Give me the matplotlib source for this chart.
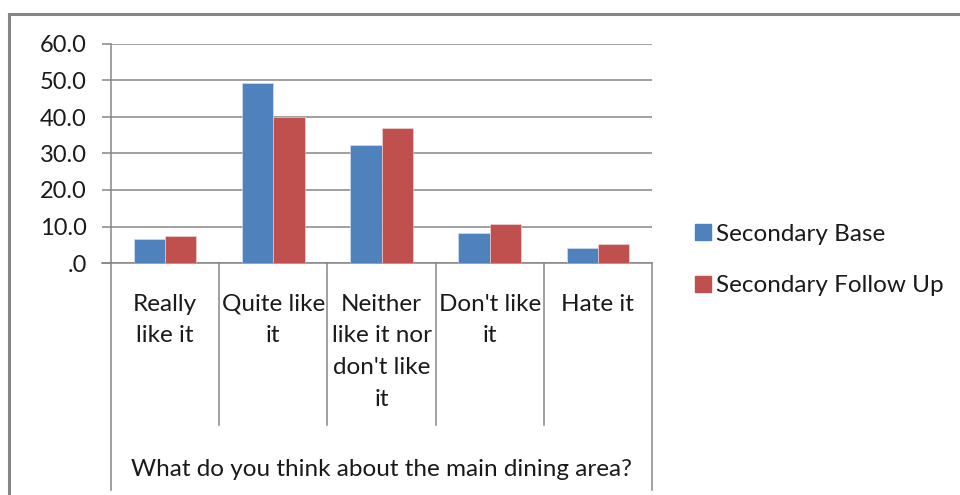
import matplotlib.pyplot as plt
import numpy as np
from matplotlib.lines import Line2D

plt.rcParams['font.family'] = ['Lato', 'DejaVu Sans']

categories = ["Really\nlike it", "Quite like\nit", "Neither\nlike it nor\ndon't like\nit",
              "Don't like\nit", "Hate it"]
base = [6.5, 49.2, 32.3, 8.1, 4.0]
follow_up = [7.5, 39.9, 36.9, 10.6, 5.3]
series_names = ["Secondary Base", "Secondary Follow Up"]
yticks = [0, 10, 20, 30, 40, 50, 60]
ytick_labels = [".0", "10.0", "20.0", "30.0", "40.0", "50.0", "60.0"]
axis_title = "What do you think about the main dining area?"

blue = "#4F81BD"
red = "#C0504D"
grey = "#868686"
txt = "#1a1a1a"

fig = plt.figure(figsize=(9.6, 4.95), dpi=100)
ax = fig.add_axes([111/960, 1 - 263/495, 541/960, 219/495])

x = np.arange(len(categories)) + 0.5
w = 0.29
ax.bar(x - w/2, base, w, color=blue, label=series_names[0], edgecolor="#dce6f2", linewidth=0.4, zorder=3)
ax.bar(x + w/2, follow_up, w, color=red, label=series_names[1], edgecolor="#f2dcdb", linewidth=0.4, zorder=3)

ax.set_xlim(0, len(categories))
ax.set_ylim(0, 60)
ax.set_yticks(yticks)
ax.set_yticklabels(ytick_labels, fontsize=17, color=txt)
ax.yaxis.grid(True, color=grey, linewidth=1.1, zorder=0)
ax.tick_params(axis='y', length=6.5, width=1.1, color=grey, pad=11)

for s in ['top', 'right']:
    ax.spines[s].set_visible(False)
for s in ['left', 'bottom']:
    ax.spines[s].set_color(grey)
    ax.spines[s].set_linewidth(1.1)
# extend bottom axis line to the left like the gridlines
ax.plot([-9/541*5, 0], [0, 0], color=grey, lw=1.1, clip_on=False, transform=ax.transData)

ax.set_xticks(x)
ax.set_xticklabels(categories, fontsize=17.5, color=txt, linespacing=1.64, va='top')
ax.tick_params(axis='x', length=0, pad=22)

# category separators
trans = ax.get_xaxis_transform()
edges = np.arange(len(categories) + 1)
for e in edges:
    bottom = -227/219 if e in (0, len(categories)) else -162/219
    ax.plot([e, e], [0, bottom], color=grey, lw=1.1, clip_on=False, transform=trans)

ax.text(len(categories)/2, -206/219, axis_title, transform=trans, ha='center', va='center',
        fontsize=17.5, color=txt)

# legend
handles = [Line2D([0], [0], marker='s', color='none', markerfacecolor=c, markeredgecolor=c,
                  markersize=11) for c in (blue, red)]
fig.legend(handles, series_names, loc='center left', bbox_to_anchor=(669/960, 1 - 260/495),
           frameon=False, fontsize=17.5, handletextpad=0.05, labelspacing=1.25, handlelength=1.0,
           labelcolor=txt)

# chart area border
fig.add_artist(Line2D([9/960, 1.0], [1 - 14/495, 1 - 14/495], color=grey, lw=2.2))
fig.add_artist(Line2D([9/960, 9/960], [1 - 14/495, 0], color=grey, lw=2.2))

fig.savefig("out.png", dpi=100)
